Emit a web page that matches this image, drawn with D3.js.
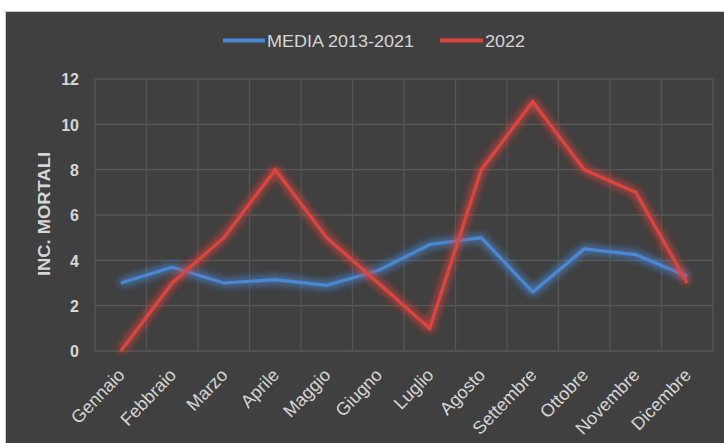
<!DOCTYPE html>
<html>
<head>
<meta charset="utf-8">
<script src="https://cdn.jsdelivr.net/npm/d3@7"></script>
<style>
  html, body { margin: 0; padding: 0; background: #ffffff; }
  svg { display: block; font-family: "Liberation Sans", Arial, sans-serif; }
</style>
</head>
<body>
<svg id="chart" width="724" height="443"></svg>
<script>
// Monthly fatal accidents: 2013-2021 average vs 2022
const months = ["Gennaio", "Febbraio", "Marzo", "Aprile", "Maggio", "Giugno",
                "Luglio", "Agosto", "Settembre", "Ottobre", "Novembre", "Dicembre"];
const media = [3.0, 3.7, 3.0, 3.15, 2.9, 3.55, 4.7, 5.0, 2.6, 4.5, 4.25, 3.3];
const anno2022 = [0, 3, 5, 8, 5, 3, 1, 8, 11, 8, 7, 3];
const yTicks = [0, 2, 4, 6, 8, 10, 12];
const seriesNames = ["MEDIA 2013-2021", "2022"];
const seriesColors = ["#4b87d2", "#db4540"];

const svg = d3.select("#chart");
const W = 724, H = 443;
const margin = { left: 95, right: 11, top: 79, bottom: 92 };
const textColor = "#d6d6d6";

// dark chart panel
svg.append("rect").attr("x", 5.5).attr("y", 11.5).attr("width", W - 5).attr("height", H - 11)
  .attr("fill", "#404040").attr("stroke", "#c8c8c8").attr("stroke-width", 1);

// soft glow around the series lines
const defs = svg.append("defs");
const glow = defs.append("filter").attr("id", "glow")
  .attr("x", "-10%").attr("y", "-20%").attr("width", "120%").attr("height", "140%");
glow.append("feGaussianBlur").attr("in", "SourceGraphic").attr("stdDeviation", 4).attr("result", "blur");
const merge = glow.append("feMerge");
merge.append("feMergeNode").attr("in", "blur");
merge.append("feMergeNode").attr("in", "blur");
merge.append("feMergeNode").attr("in", "SourceGraphic");

const x = d3.scaleBand().domain(months).range([margin.left, W - margin.right]);
const y = d3.scaleLinear().domain([0, 12]).range([H - margin.bottom, margin.top]);

// horizontal gridlines
svg.append("g").selectAll("line").data(yTicks).join("line")
  .attr("x1", margin.left).attr("x2", W - margin.right)
  .attr("y1", d => y(d)).attr("y2", d => y(d))
  .attr("stroke", "#5a5a5a").attr("stroke-width", 1.3);

// vertical gridlines at category boundaries
const bounds = months.map(m => x(m)).concat([W - margin.right]);
svg.append("g").selectAll("line").data(bounds).join("line")
  .attr("x1", d => d).attr("x2", d => d)
  .attr("y1", y(12)).attr("y2", y(0))
  .attr("stroke", "#555555").attr("stroke-width", 1.3);

// y axis labels
const yAxis = d3.axisLeft(y).tickValues(yTicks).tickSize(0).tickPadding(16);
const gy = svg.append("g").attr("transform", `translate(${margin.left},0)`).call(yAxis);
gy.select(".domain").remove();
gy.selectAll("text").attr("fill", textColor).attr("font-size", 16).attr("font-weight", "bold")
  .attr("font-family", "Liberation Sans, Arial, sans-serif").attr("dy", "0.36em");

// y axis title
svg.append("text")
  .attr("transform", `translate(49.5,${(y(0) + y(12)) / 2 - 1}) rotate(-90)`)
  .attr("text-anchor", "middle").attr("fill", textColor)
  .attr("font-size", 17).attr("font-weight", "bold")
  .attr("textLength", 124).attr("lengthAdjust", "spacingAndGlyphs")
  .text("INC. MORTALI");

// x axis labels, slanted
const xAxis = d3.axisBottom(x).tickSize(0).tickPadding(0);
const gx = svg.append("g").attr("transform", `translate(0,${y(0)})`).call(xAxis);
gx.select(".domain").remove();
gx.selectAll("text")
  .attr("fill", textColor).attr("font-size", 18)
  .attr("font-family", "Liberation Sans, Arial, sans-serif")
  .attr("text-anchor", "end")
  .attr("dy", null).attr("y", 0)
  .attr("transform", "translate(5,25) rotate(-46)");

// series lines
const line = d3.line().x((d, i) => x(months[i]) + x.bandwidth() / 2).y(d => y(d));
[media, anno2022].forEach((vals, k) => {
  svg.append("path").datum(vals)
    .attr("d", line).attr("fill", "none")
    .attr("stroke", seriesColors[k]).attr("stroke-width", 3.2)
    .attr("stroke-linejoin", "miter")
    .attr("filter", "url(#glow)");
});

// legend
const legend = svg.append("g").attr("transform", "translate(0,40.5)");
const legendItems = [{ x: 223, w: 42, tw: 147 }, { x: 440, w: 43, tw: 40 }];
seriesNames.forEach((name, k) => {
  const it = legendItems[k];
  legend.append("line").attr("x1", it.x).attr("x2", it.x + it.w).attr("y1", 0).attr("y2", 0)
    .attr("stroke", seriesColors[k]).attr("stroke-width", 4);
  legend.append("text").attr("x", it.x + it.w + 2).attr("y", 6)
    .attr("fill", textColor).attr("font-size", 16.5)
    .attr("textLength", it.tw).attr("lengthAdjust", "spacingAndGlyphs")
    .text(name);
});
</script>
</body>
</html>
